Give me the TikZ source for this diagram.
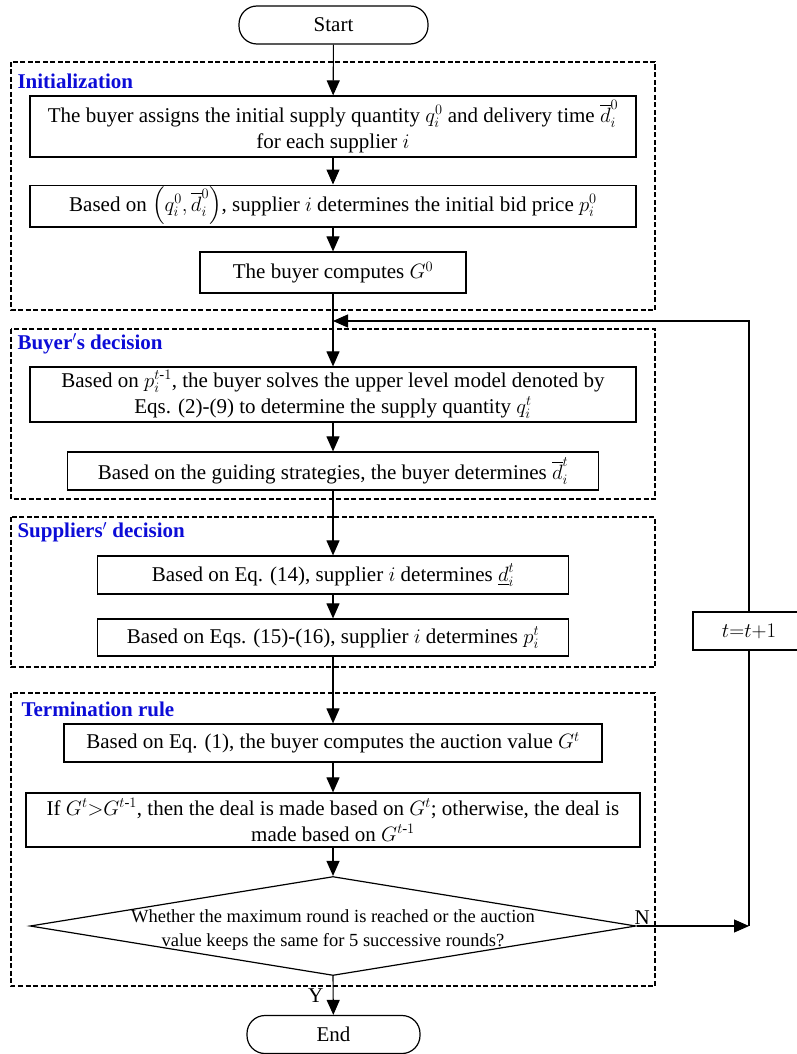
\documentclass[tikz,border=0pt]{standalone}
\usepackage{amsmath,amssymb}
\usepackage{fontspec}
\setmainfont{Liberation Serif}
\usepackage{xcolor}
\usepackage{tikz}
\usetikzlibrary{shapes,arrows,positioning,calc,arrows.meta}
\definecolor{stageblue}{RGB}{12,12,215}

\begin{document}
\begin{tikzpicture}[x=1pt,y=-1pt,
        font=\fontsize{21}{26}\selectfont,
        procbox/.style={draw, line width=1.2pt, fill=white, align=center, inner sep=2pt},
        termbox/.style={draw, line width=1.2pt, rounded corners=18pt, minimum height=38pt},
        decision/.style={draw, line width=1.2pt, diamond, inner sep=0pt},
        stage/.style={draw, line width=1.1pt, dash pattern=on 5pt off 2.5pt},
        stagelabel/.style={anchor=west, text=stageblue, font=\fontsize{21}{26}\selectfont\bfseries},
        flow/.style={line width=1.1pt, -{Triangle[length=15pt,width=13pt]}}]
        \useasboundingbox (0,0) rectangle (796,1054);

        % Stage frames
        \draw[stage] (11,62) rectangle (655,310);
        \draw[stage] (11,329) rectangle (655,499);
        \draw[stage] (11,517) rectangle (655,667);
        \draw[stage] (11,693) rectangle (655,986);
        \node[stagelabel] (lbinit) at (14,81) {Initialization};
        \node[stagelabel] (lbbuy) at (14,344) {Buyer{$'$}s decision};
        \node[stagelabel] (lbsup) at (14,532) {Suppliers{$'$} decision};
        \node[stagelabel] (lbterm) at (18,709) {Termination rule};

        % Start
        \node[termbox, minimum width=189pt] (start) at (333.5,25) {Start};

        % Initialization
        \node[procbox, minimum width=606pt, minimum height=61pt] (assign) at (333,126.5)
            {The buyer assigns the initial supply quantity $q_i^0$ and delivery time $\overline{d}_i^0$\\ for each supplier $i$};
        \node[procbox, minimum width=606pt, minimum height=38pt] (bid) at (333,206)
            {Based on $\left(q_i^0,\overline{d}_i^0\right)$, supplier $i$ determines the initial bid price $p_i^0$};
        \node[procbox, minimum width=266pt, minimum height=41pt] (gzero) at (333,272.5)
            {The buyer computes $G^0$};

        % Buyer's decision
        \node[procbox, minimum width=606pt, minimum height=55pt] (upper) at (333,394.5)
            {Based on $p_i^{t\text{-}1}$, the buyer solves the upper level model denoted by\\ Eqs. (2)-(9) to determine the supply quantity $q_i^t$};
        \node[procbox, minimum width=531pt, minimum height=38pt] (guide) at (333,471)
            {Based on the guiding strategies, the buyer determines $\overline{d}_i^t$};

        % Suppliers' decision
        \node[procbox, minimum width=471pt, minimum height=38pt] (lowd) at (333,575)
            {Based on Eq. (14), supplier $i$ determines $\underline{d}_i^t$};
        \node[procbox, minimum width=471pt, minimum height=37pt] (price) at (333,637.5)
            {Based on Eqs. (15)-(16), supplier $i$ determines $p_i^t$};

        % Termination rule
        \node[procbox, minimum width=538pt, minimum height=38pt] (auction) at (333,743)
            {Based on Eq. (1), the buyer computes the auction value $G^t$};
        \node[procbox, minimum width=614pt, minimum height=54pt] (deal) at (333,820)
            {If $G^t{>}G^{t\text{-}1}$, then the deal is made based on $G^t$; otherwise, the deal is\\ made based on $G^{t\text{-}1}$};
        \node[decision, minimum width=606pt, minimum height=99pt,
            label={[align=center, font=\fontsize{18.5}{24}\selectfont, yshift=-4pt]center:Whether the maximum round is reached or the auction\\ value keeps the same for 5 successive rounds?}]
            (check) at (333,926) {};

        % End
        \node[termbox, minimum width=173pt] (end) at (333.5,1034.5) {End};

        % Counter
        \node[procbox, minimum width=112pt, minimum height=38pt] (incr) at (749,631) {$t{=}t{+}1$};
        \coordinate (merge) at (333,321);
        \coordinate (turn) at (749,926);

        % Main flow
        \draw[flow] (start) -- (assign);
        \draw[flow] (assign) -- (bid);
        \draw[flow] (bid) -- (gzero);
        \draw[flow] (gzero) -- (upper);
        \draw[flow] (upper) -- (guide);
        \draw[flow] (guide) -- (lowd);
        \draw[flow] (lowd) -- (price);
        \draw[flow] (price) -- (auction);
        \draw[flow] (auction) -- (deal);
        \draw[flow] (deal) -- (check.north);
        \draw[flow] (check.south) -- node[midway, left, xshift=-6pt] {Y} (end);

        % Loop back
        \draw[flow] (check.east) -- node[pos=0.05, above, yshift=-2pt] {N} (turn);
        \draw[line width=1.1pt] (turn) -- (incr.south);
        \draw[flow] (incr.north) |- (merge);
    \end{tikzpicture}
\end{document}
